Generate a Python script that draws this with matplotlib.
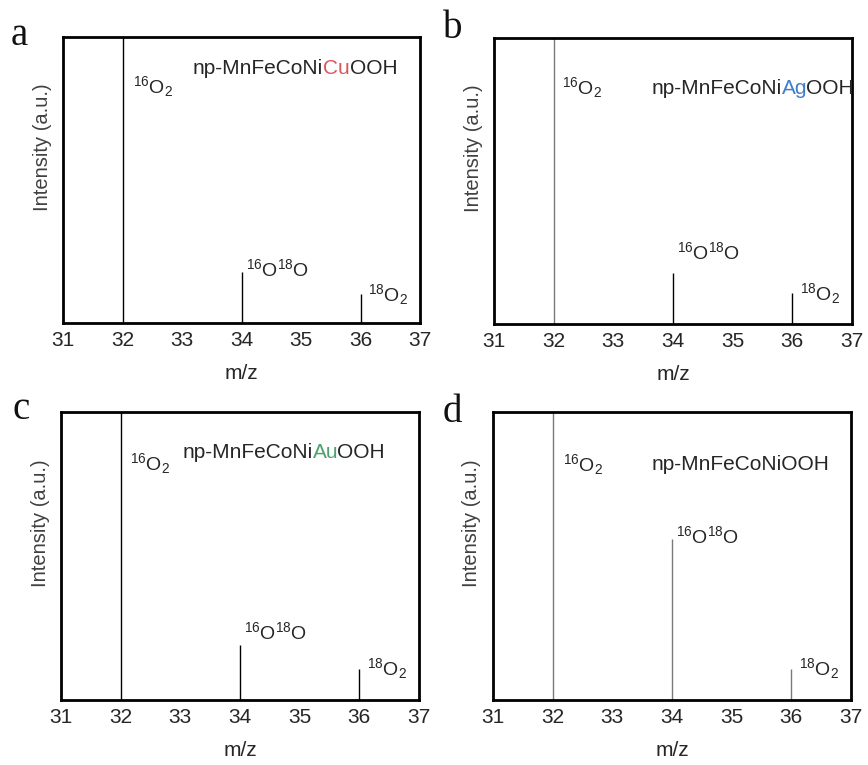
import matplotlib
matplotlib.use("Agg")
import matplotlib.pyplot as plt

plt.rcParams['font.family'] = ['Liberation Sans', 'DejaVu Sans']
plt.rcParams['mathtext.fontset'] = 'custom'
plt.rcParams['mathtext.rm'] = 'Liberation Sans'
plt.rcParams['mathtext.it'] = 'Liberation Sans'
plt.rcParams['mathtext.default'] = 'regular'

# m/z peak positions and relative intensities for each catalyst
mz = [32, 34, 36]
intensity_cu = [1.0, 0.178, 0.10]
intensity_ag = [1.0, 0.18, 0.108]
intensity_au = [1.0, 0.19, 0.108]
intensity_base = [1.0, 0.56, 0.108]
peak_labels = [r'$^{16}$O$_2$', r'$^{16}$O$^{18}$O', r'$^{18}$O$_2$']
x_ticks = [31, 32, 33, 34, 35, 36, 37]

panel_letters = ['a', 'b', 'c', 'd']
# sample name split in pieces: (prefix, highlighted element, suffix)
sample_names = [('np-MnFeCoNi', 'Cu', 'OOH'),
                ('np-MnFeCoNi', 'Ag', 'OOH'),
                ('np-MnFeCoNi', 'Au', 'OOH'),
                ('np-MnFeCoNiOOH', '', '')]
element_colors = ['#d9575a', '#3f7fc9', '#4aa36a', '#000000']

W, H = 868, 765
fig = plt.figure(figsize=(W / 100, H / 100), dpi=100)

# axes boxes in pixels: left, top, right, bottom
boxes = [(63, 37, 420, 323), (494, 38, 852, 324),
         (61, 412, 419, 700), (493, 412, 851, 700)]
datasets = [intensity_cu, intensity_ag, intensity_au, intensity_base]
line_colors = [['#000000', '#000000', '#000000'],
               ['#7a7a7a', '#000000', '#000000'],
               ['#000000', '#000000', '#000000'],
               ['#7a7a7a', '#7a7a7a', '#7a7a7a']]
# label anchor positions (x in data, y in axes fraction)
o16_pos = [(32.18, 0.825), (32.14, 0.825), (32.16, 0.82), (32.17, 0.816)]
title_pos = [(33.18, 0.89), (33.64, 0.825), (33.04, 0.86), (33.65, 0.816)]
mixed_dy = [0.0, 0.06, 0.035, 0.0]
# panel letter placement: left edge and baseline, in pixels
letter_pos = [(11, 45), (443, 38), (13, 419), (443, 422)]
# gap correction after the highlighted element, in points
el_gap = [0.0, -1.0, -1.0, 0.0]

text_color = '#262626'
label_fs = 15

for i, (l, t, r, b) in enumerate(boxes):
    ax = fig.add_axes([l / W, 1 - b / H, (r - l) / W, (b - t) / H])
    vals = datasets[i]
    for x, v, c in zip(mz, vals, line_colors[i]):
        ax.vlines(x, 0, v, color=c, lw=1.0)
    ax.set_xlim(31, 37)
    ax.set_ylim(0, 1)
    ax.set_xticks(x_ticks)
    ax.set_yticks([])
    ax.tick_params(axis='x', length=0, pad=6, labelsize=15, labelcolor=text_color)
    for s in ax.spines.values():
        s.set_linewidth(2.0)
    ax.set_xlabel('m/z', fontsize=15, color=text_color, labelpad=10)
    ax.set_ylabel('Intensity (a.u.)', fontsize=14.5, color='#404040')
    ax.yaxis.set_label_coords(-21 / (r - l), 0.615)
    ax.yaxis.label.set_va('center')

    trans = ax.get_xaxis_transform()
    # peak labels
    ax.text(o16_pos[i][0], o16_pos[i][1], peak_labels[0], transform=trans,
            fontsize=14, color=text_color, va='center', ha='left')
    ax.text(mz[1] + 0.07, vals[1] + 0.01 + mixed_dy[i], peak_labels[1], transform=trans,
            fontsize=14, color=text_color, va='center', ha='left')
    ax.text(mz[2] + 0.13, vals[2], peak_labels[2], transform=trans,
            fontsize=14, color=text_color, va='center', ha='left')

    # sample name with highlighted element
    pre, el, suf = sample_names[i]
    t0 = ax.text(title_pos[i][0], title_pos[i][1], pre, transform=trans,
                 fontsize=label_fs, color=text_color, va='center', ha='left')
    if el:
        t1 = ax.annotate(el, xy=(1, 0), xycoords=t0, fontsize=label_fs,
                         color=element_colors[i], va='bottom', ha='left')
        ax.annotate(suf, xy=(1, 0), xycoords=t1, xytext=(el_gap[i], 0),
                    textcoords='offset points', fontsize=label_fs,
                    color=text_color, va='bottom', ha='left')

    # panel letter
    lx, ly = letter_pos[i]
    fig.text(lx / W, 1 - ly / H, panel_letters[i], family='Liberation Serif',
             fontsize=28, va='baseline', ha='left', color='#111111')

fig.savefig('out.png', dpi=100)
